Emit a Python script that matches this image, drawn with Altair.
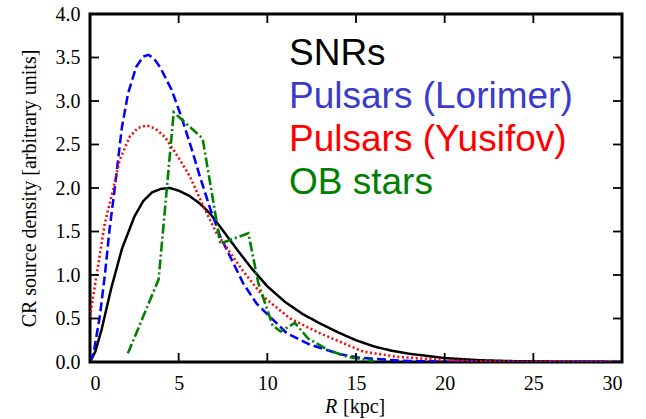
import altair as alt
import pandas as pd

# ---- data ----
snr_R = [0, 0.3, 0.65, 1.2, 1.8, 2.5, 3.0, 3.5, 4.0, 4.5, 5.0, 5.6, 6.2, 6.8, 7.5, 8.3, 9.1, 10, 11, 12,
         13, 14, 15, 16, 17, 18, 20, 22, 24, 26, 28, 30]
snr_v = [0, 0.12, 0.37, 0.85, 1.30, 1.67, 1.85, 1.95, 1.99, 2.00, 1.97, 1.91, 1.82, 1.70, 1.51, 1.29, 1.08,
         0.87, 0.69, 0.55, 0.44, 0.34, 0.25, 0.18, 0.13, 0.095, 0.045, 0.02, 0.009, 0.004, 0.002, 0.001]

lor_R = [0, 0.2, 0.55, 0.85, 1.1, 1.35, 1.8, 2.15, 2.6, 3.0, 3.3, 3.6, 3.95, 4.6, 5.15, 5.7, 6.2, 6.8, 7.35,
         8.1, 8.65, 9.4, 10.15, 11.1, 12.4, 14.1, 15.2, 17.5, 20, 22, 30]
lor_v = [0, 0.10, 0.52, 1.02, 1.52, 1.92, 2.70, 3.09, 3.39, 3.51, 3.53, 3.49, 3.39, 3.13, 2.82, 2.47, 2.13,
         1.75, 1.44, 1.13, 0.90, 0.67, 0.52, 0.33, 0.20, 0.09, 0.05, 0.015, 0.004, 0.001, 0.0]

yus_R = [0, 0.45, 0.83, 1.3, 1.67, 2.24, 2.7, 3.2, 3.7, 4.21, 4.96, 5.64, 6.39, 7.14, 8.27, 8.65, 9.78,
         11.28, 12.97, 14.48, 15.4, 17.3, 20.1, 22, 25, 30]
yus_v = [0.52, 1.10, 1.59, 1.98, 2.32, 2.59, 2.69, 2.72, 2.68, 2.59, 2.36, 2.13, 1.79, 1.48, 1.15, 1.04,
         0.75, 0.50, 0.33, 0.20, 0.12, 0.06, 0.02, 0.008, 0.002, 0.0]

ob_R = [2.14, 3.87, 4.72, 6.35, 7.35, 8.93, 9.5, 10.3, 10.75, 11.55, 12.3, 13.4, 14.5, 16.0]
ob_v = [0.10, 0.95, 2.87, 2.57, 1.36, 1.48, 0.90, 0.42, 0.35, 0.45, 0.27, 0.14, 0.06, 0.01]

series = ["SNRs", "Pulsars (Lorimer)", "Pulsars (Yusifov)", "OB stars"]
line_colors = ["#000000", "#0000ff", "#ff0000", "#008000"]
text_colors = ["#000000", "#3b3bcb", "#ff0000", "#008000"]
dashes = [[1, 0], [9, 4], [2, 2.6], [10, 3, 2, 3]]
widths = [2.5, 2.6, 2.4, 2.6]

x_ticks = [0, 5, 10, 15, 20, 25, 30]
y_ticks = [0.0, 0.5, 1.0, 1.5, 2.0, 2.5, 3.0, 3.5, 4.0]

rows = []
for name, Rs, vs in zip(series, [snr_R, lor_R, yus_R, ob_R], [snr_v, lor_v, yus_v, ob_v]):
    for r, v in zip(Rs, vs):
        rows.append({"series": name, "R": r, "v": v})
df = pd.DataFrame(rows)

W, H = 532, 348
serif = "Liberation Serif"

xscale = alt.Scale(domain=[0, 30], nice=False, zero=False)
yscale = alt.Scale(domain=[0, 4], nice=False)

x_axis = alt.Axis(values=x_ticks, title=None, ticks=False, domain=False, grid=False,
                  labelFont=serif, labelFontSize=20, labelColor="black",
                  labelPadding=11, format="d")
y_axis = alt.Axis(values=y_ticks, title="CR source density [arbitrary units]", ticks=False,
                  domain=False, grid=False, format=".1f",
                  labelFont=serif, labelFontSize=20, labelColor="black", labelPadding=10,
                  titleFont=serif, titleFontSize=20, titleFontWeight="normal",
                  titleColor="black", titleX=-61, titleY=174, titleAngle=-90,
                  titleAlign="center", titleBaseline="middle")

lines = alt.Chart(df).mark_line(clip=True).encode(
    x=alt.X("R:Q", scale=xscale, axis=x_axis),
    y=alt.Y("v:Q", scale=yscale, axis=y_axis),
    color=alt.Color("series:N", scale=alt.Scale(domain=series, range=line_colors), legend=None),
    strokeDash=alt.StrokeDash("series:N", scale=alt.Scale(domain=series, range=dashes), legend=None),
    strokeWidth=alt.StrokeWidth("series:N", scale=alt.Scale(domain=series, range=widths), legend=None),
    order=alt.Order("R:Q"),
)

xt = pd.DataFrame({"R": x_ticks})
yt = pd.DataFrame({"v": y_ticks})
tick_len = 9
bottom_ticks = alt.Chart(xt).mark_rule(color="black", strokeWidth=1.8).encode(
    x=alt.X("R:Q", scale=xscale, axis=x_axis), y=alt.value(H), y2=alt.value(H - tick_len))
top_ticks = alt.Chart(xt).mark_rule(color="black", strokeWidth=1.8).encode(
    x=alt.X("R:Q", scale=xscale, axis=x_axis), y=alt.value(0), y2=alt.value(tick_len))
left_ticks = alt.Chart(yt).mark_rule(color="black", strokeWidth=1.8).encode(
    y=alt.Y("v:Q", scale=yscale, axis=y_axis), x=alt.value(0), x2=alt.value(tick_len))
right_ticks = alt.Chart(yt).mark_rule(color="black", strokeWidth=1.8).encode(
    y=alt.Y("v:Q", scale=yscale, axis=y_axis), x=alt.value(W), x2=alt.value(W - tick_len))

# legend-like labels
label_y = [51, 94, 137, 180]
labels = []
for name, col, yy in zip(series, text_colors, label_y):
    labels.append(
        alt.Chart(pd.DataFrame({"label": [name]})).mark_text(
            align="left", baseline="alphabetic", font="Liberation Sans", fontSize=37, color=col
        ).encode(text="label:N", x=alt.value(199), y=alt.value(yy))
    )

# x-axis title with italic R
xt_R = alt.Chart(pd.DataFrame({"s": ["R"]})).mark_text(
    align="left", baseline="alphabetic", font=serif, fontSize=20, fontStyle="italic", color="black"
).encode(text="s:N", x=alt.value(235), y=alt.value(399))
xt_rest = alt.Chart(pd.DataFrame({"s": ["[kpc]"]})).mark_text(
    align="left", baseline="alphabetic", font=serif, fontSize=20, color="black"
).encode(text="s:N", x=alt.value(253), y=alt.value(399))

chart = alt.layer(
    lines, bottom_ticks, top_ticks, left_ticks, right_ticks, xt_R, xt_rest, *labels
).properties(
    width=W, height=H,
    autosize=alt.AutoSizeParams(type="none"),
    padding={"left": 90, "top": 14, "right": 24, "bottom": 57},
    background="white",
).configure_view(stroke="black", strokeWidth=3)

chart.save("out.html", embed_options={"renderer": "svg", "actions": False})
